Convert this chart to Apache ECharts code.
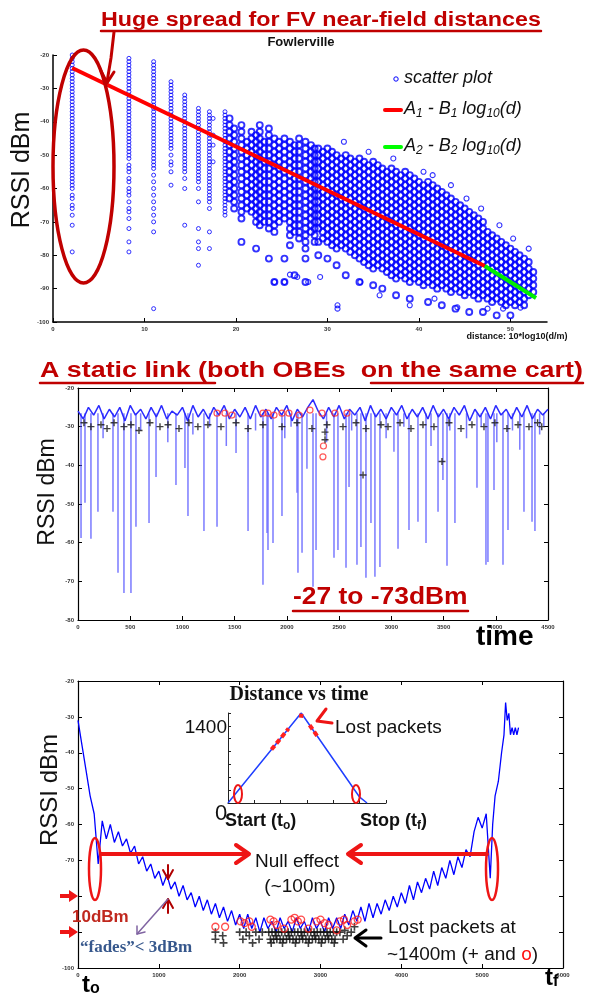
<!DOCTYPE html>
<html>
<head>
<meta charset="utf-8">
<script src="https://cdn.jsdelivr.net/npm/echarts@6/dist/echarts.min.js"></script>
<style>
  html, body { margin: 0; padding: 0; background: #fff; }
  #chart { width: 594px; height: 998px; }
</style>
</head>
<body>
<div id="chart"></div>
<script>
// ---------- Panel 1: Fowlerville RSSI vs 10*log10(d/m) ----------
// near-field columns (few distinct distances)
const nearDist = [2.1, 8.3, 11.0, 12.9, 14.4, 15.9, 17.1, 17.5, 18.8];
const nearRssi = [
  [-20,-21,-22,-23,-24,-25,-26,-27,-28,-29,-30,-31,-32,-33,-34,-35,-36,-37,-38,-39,-40,-41,-42,-43,-44,-45,-46,-47,-48,-49,-50,-51,-52,-53,-54,-55,-56,-57,-58,-59,-60,-62,-63,-65,-66,-68,-71,-79],
  [-21,-22,-23,-24,-25,-26,-27,-28,-29,-30,-31,-32,-33,-34,-35,-36,-37,-38,-39,-40,-41,-42,-43,-44,-45,-46,-47,-48,-49,-50,-51,-53,-54,-55,-57,-58,-60,-61,-62,-64,-66,-67,-69,-72,-76,-79],
  [-22,-23,-24,-25,-26,-27,-28,-29,-30,-31,-32,-33,-34,-35,-36,-37,-38,-39,-40,-41,-42,-43,-44,-45,-46,-47,-48,-49,-50,-51,-52,-53,-54,-56,-58,-60,-62,-64,-66,-68,-70,-73,-96],
  [-28,-29,-30,-31,-32,-33,-34,-35,-36,-37,-38,-39,-40,-41,-42,-43,-44,-45,-46,-47,-48,-50,-52,-53,-55,-59],
  [-32,-33,-34,-35,-36,-37,-38,-39,-40,-41,-42,-43,-44,-45,-46,-47,-48,-49,-50,-51,-52,-53,-54,-55,-57,-60,-71],
  [-36,-37,-38,-39,-40,-41,-42,-43,-44,-45,-46,-47,-48,-49,-50,-51,-52,-53,-54,-55,-56,-57,-58,-60,-64,-72,-76,-78,-83],
  [-37,-38,-39,-40,-41,-42,-43,-44,-45,-46,-47,-48,-49,-50,-51,-52,-53,-54,-55,-56,-57,-58,-59,-60,-61,-62,-63,-64,-66,-73,-78],
  [-39,-44,-47,-52],
  [-37,-38,-39,-40,-41,-42,-43,-44,-45,-46,-47,-48,-49,-50,-51,-52,-53,-54,-55,-56,-57,-58,-59,-60,-61,-62,-63,-64,-65,-66,-67,-68]
];
// far-field columns (dense cloud)
const farDist = [19.3, 19.8, 20.6, 21.2, 21.7, 22.2, 22.6, 23.1, 23.6, 24.2, 24.7, 25.3, 25.9, 26.4, 26.9, 27.6, 28.2, 28.6,
  29.0, 29.5, 30.0, 30.5, 31.0, 31.5, 32.0, 32.5, 33.0, 33.5, 34.0, 34.5, 35.0, 35.5, 36.0, 36.5, 37.0, 37.5,
  38.0, 38.5, 39.0, 39.5, 40.0, 40.5, 41.0, 41.5, 42.0, 42.5, 43.0, 43.5, 44.0, 44.5, 45.0, 45.5, 46.0, 46.5,
  47.0, 47.5, 48.0, 48.5, 49.0, 49.5, 50.0, 50.5, 51.0, 51.5, 52.0, 52.5];
const farRssi = [
  [-39,-41,-43,-45,-47,-49,-51,-53,-55,-57,-59,-61,-63],
  [-42,-44,-46,-48,-50,-52,-54,-56,-58,-60,-62,-64,-66],
  [-41,-43,-45,-47,-49,-51,-53,-55,-57,-59,-61,-63,-65,-67,-69,-76],
  [-46,-48,-50,-52,-54,-56,-58,-60,-62,-64,-66],
  [-43,-45,-47,-49,-51,-53,-55,-57,-59,-61,-63,-65,-67],
  [-44,-46,-48,-50,-52,-54,-56,-58,-60,-62,-64,-66,-68,-70,-78],
  [-41,-43,-45,-47,-49,-51,-53,-55,-57,-59,-61,-63,-65,-67,-69,-71],
  [-46,-48,-50,-52,-54,-56,-58,-60,-62,-64,-66,-68,-70],
  [-42,-44,-46,-48,-50,-52,-54,-56,-58,-60,-62,-64,-66,-68,-70,-72,-81],
  [-45,-47,-49,-51,-53,-55,-57,-59,-61,-63,-65,-67,-69,-71,-73,-88],
  [-46,-48,-50,-52,-54,-56,-58,-60,-62,-64,-66,-68,-70],
  [-45,-47,-49,-51,-53,-55,-57,-59,-61,-63,-65,-67,-69,-81,-88],
  [-46,-48,-50,-52,-54,-56,-58,-60,-62,-64,-66,-68,-70,-72,-74,-77],
  [-47,-49,-51,-53,-55,-57,-59,-61,-63,-65,-67,-69,-71,-73,-86],
  [-45,-47,-49,-51,-53,-55,-57,-59,-61,-63,-65,-67,-69,-71,-73,-75],
  [-46,-48,-50,-52,-54,-56,-58,-60,-62,-64,-66,-68,-70,-72,-74,-76,-78,-81,-88],
  [-47,-49,-51,-53,-55,-57,-59,-61,-63,-65,-67,-69,-71,-73],
  [-48,-50,-52,-54,-56,-58,-60,-62,-64,-66,-68,-70,-72,-74,-76],
  [-48,-50,-52,-54,-56,-58,-60,-62,-64,-66,-68,-70,-72,-76,-80],
  [-49,-51,-53,-55,-57,-59,-61,-63,-65,-67,-69,-71,-73,-75],
  [-48,-50,-52,-54,-56,-58,-60,-62,-64,-66,-68,-70,-72,-74,-76,-81],
  [-49,-51,-53,-55,-57,-59,-61,-63,-65,-67,-69,-71,-73,-75,-77],
  [-50,-52,-54,-56,-58,-60,-62,-64,-66,-68,-70,-72,-74,-76,-78,-83],
  [-51,-53,-55,-57,-59,-61,-63,-65,-67,-69,-71,-73,-75,-77],
  [-50,-52,-54,-56,-58,-60,-62,-64,-66,-68,-70,-72,-74,-76,-78,-86],
  [-51,-53,-55,-57,-59,-61,-63,-65,-67,-69,-71,-73,-75,-77,-79],
  [-52,-54,-56,-58,-60,-62,-64,-66,-68,-70,-72,-74,-76,-78,-80],
  [-51,-53,-55,-57,-59,-61,-63,-65,-67,-69,-71,-73,-75,-77,-79,-81,-88],
  [-52,-54,-56,-58,-60,-62,-64,-66,-68,-70,-72,-74,-76,-78,-80,-82],
  [-53,-55,-57,-59,-61,-63,-65,-67,-69,-71,-73,-75,-77,-79,-81,-83],
  [-52,-54,-56,-58,-60,-62,-64,-66,-68,-70,-72,-74,-76,-78,-80,-82,-84,-89],
  [-53,-55,-57,-59,-61,-63,-65,-67,-69,-71,-73,-75,-77,-79,-81,-83],
  [-54,-56,-58,-60,-62,-64,-66,-68,-70,-72,-74,-76,-78,-80,-82,-84,-90],
  [-55,-57,-59,-61,-63,-65,-67,-69,-71,-73,-75,-77,-79,-81,-83,-85],
  [-54,-56,-58,-60,-62,-64,-66,-68,-70,-72,-74,-76,-78,-80,-82,-84,-86],
  [-55,-57,-59,-61,-63,-65,-67,-69,-71,-73,-75,-77,-79,-81,-83,-85,-87,-92],
  [-56,-58,-60,-62,-64,-66,-68,-70,-72,-74,-76,-78,-80,-82,-84,-86],
  [-55,-57,-59,-61,-63,-65,-67,-69,-71,-73,-75,-77,-79,-81,-83,-85,-87],
  [-56,-58,-60,-62,-64,-66,-68,-70,-72,-74,-76,-78,-80,-82,-84,-86,-88,-93],
  [-57,-59,-61,-63,-65,-67,-69,-71,-73,-75,-77,-79,-81,-83,-85,-87],
  [-58,-60,-62,-64,-66,-68,-70,-72,-74,-76,-78,-80,-82,-84,-86,-88],
  [-59,-61,-63,-65,-67,-69,-71,-73,-75,-77,-79,-81,-83,-85,-87,-89],
  [-58,-60,-62,-64,-66,-68,-70,-72,-74,-76,-78,-80,-82,-84,-86,-88,-94],
  [-59,-61,-63,-65,-67,-69,-71,-73,-75,-77,-79,-81,-83,-85,-87,-89],
  [-60,-62,-64,-66,-68,-70,-72,-74,-76,-78,-80,-82,-84,-86,-88,-90],
  [-61,-63,-65,-67,-69,-71,-73,-75,-77,-79,-81,-83,-85,-87,-89,-95],
  [-62,-64,-66,-68,-70,-72,-74,-76,-78,-80,-82,-84,-86,-88,-90],
  [-63,-65,-67,-69,-71,-73,-75,-77,-79,-81,-83,-85,-87,-89,-91],
  [-64,-66,-68,-70,-72,-74,-76,-78,-80,-82,-84,-86,-88,-90,-96],
  [-65,-67,-69,-71,-73,-75,-77,-79,-81,-83,-85,-87,-89,-91],
  [-66,-68,-70,-72,-74,-76,-78,-80,-82,-84,-86,-88,-90,-92],
  [-67,-69,-71,-73,-75,-77,-79,-81,-83,-85,-87,-89,-91,-97],
  [-68,-70,-72,-74,-76,-78,-80,-82,-84,-86,-88,-90,-92],
  [-69,-71,-73,-75,-77,-79,-81,-83,-85,-87,-89,-91,-93],
  [-70,-72,-74,-76,-78,-80,-82,-84,-86,-88,-90,-92,-97],
  [-73,-75,-77,-79,-81,-83,-85,-87,-89,-91,-93],
  [-74,-76,-78,-80,-82,-84,-86,-88,-90,-92,-94],
  [-75,-77,-79,-81,-83,-85,-87,-89,-91,-93,-98],
  [-76,-78,-80,-82,-84,-86,-88,-90,-92,-94],
  [-77,-79,-81,-83,-85,-87,-89,-91,-93,-95],
  [-78,-80,-82,-84,-86,-88,-90,-92,-94,-98],
  [-79,-81,-83,-85,-87,-89,-91,-93,-95],
  [-80,-82,-84,-86,-88,-90,-92,-94],
  [-81,-83,-85,-87,-89,-91,-93,-95],
  [-82,-84,-86,-88,-90,-92],
  [-85,-87,-89,-91]
];
// isolated readings away from the main cloud
const distExtra = [31.8, 34.5, 37.2, 40.5, 41.5, 43.5, 45.2, 46.8, 48.8, 50.3, 52.0,
  24.2, 25.3, 27.9, 26.7, 25.9, 29.2, 31.1, 31.1, 33.6, 35.7, 39.0, 41.7, 44.2, 47.5, 49.2, 51.1];
const rssiExtra = [-46, -49, -51, -55, -56, -59, -63, -66, -71, -75, -78,
  -88, -88, -88, -86.5, -85.8, -86.5, -95, -96, -88, -92, -95, -93, -95.6, -96, -96, -95.7];
// log-distance fits
const fit1Dist = [2.1, 47.2];
const fit1Rssi = [-23.9, -83.2];
const fit2Dist = [47.2, 52.8];
const fit2Rssi = [-83.2, -92.8];
const distTicks = [0, 10, 20, 30, 40, 50];

// ---------- Panel 2: static link RSSI vs time ----------
const staticTime = [
  0,50,100,150,200,250,300,350,400,450,
  500,550,600,650,700,750,800,850,900,950,
  1000,1050,1100,1150,1200,1250,1300,1350,1400,1450,
  1500,1550,1600,1650,1700,1750,1800,1850,1900,1950,
  2000,2050,2100,2150,2200,2250,2300,2350,2400,2450,
  2500,2550,2600,2650,2700,2750,2800,2850,2900,2950,
  3000,3050,3100,3150,3200,3250,3300,3350,3400,3450,
  3500,3550,3600,3650,3700,3750,3800,3850,3900,3950,
  4000,4050,4100,4150,4200,4250,4300,4350,4400,4450,
  4500];
const staticRssi = [
  -26,-28,-25,-27,-24.5,-28,-25.5,-27.5,-25,-28.5,
  -24.5,-27,-25.5,-28,-25,-27.5,-24.5,-28,-26,-27,
  -25,-28.5,-24.5,-27.5,-25.5,-28,-25,-27,-24.5,-28,
  -25.5,-27.5,-25,-28,-24.5,-27.5,-25.5,-28,-25,-27,
  -24.5,-28.5,-25.5,-27.5,-25,-23,-26,-28,-25,-27.5,
  -24.5,-28,-25.5,-27,-25,-28.5,-24.5,-27.5,-25.5,-28,
  -25,-27,-24.5,-28,-25.5,-27.5,-25,-28,-24.5,-27.5,
  -25.5,-28,-25,-27,-24.5,-28.5,-25.5,-27.5,-25,-28,
  -24.5,-27,-25.5,-28,-25,-27.5,-24.5,-28,-25.5,-27,
  -25.5];
const staticLevel = -26.5;
// deep fades: [time, lowest RSSI]
const fades2 = [
  [29,-58.8],[67,-49.7],[124,-59],[191,-52],[335,-52],[383,-67.8],[440,-73],[507,-73],[555,-55.9],
  [680,-54.9],[747,-43],[938,-45.1],[1024,-40.7],[1053,-53.1],[1206,-57],[1331,-55.9],[1513,-36.8],
  [1628,-57],[1771,-70.9],[1810,-57.5],[1819,-61.9],[1867,-60.1],[1953,-53.1],[2097,-47.1],[2106,-67.8],
  [2145,-62.6],[2192,-40.9],[2250,-71.4],[2279,-61.9],[2451,-63.9],[2489,-61.9],[2566,-66.5],[2595,-45.6],
  [2671,-65.7],[2709,-61.1],[2757,-69.1],[2805,-54.9],[2843,-68.8],[2891,-66.3],[3025,-36.5],[3064,-61.6],
  [3169,-56.7],[3255,-54.6],[3332,-60.1],[3447,-52],[3494,-43.8],[3533,-66],[3609,-54.9],[3820,-45.8],
  [3906,-65.7],[3925,-65],[3983,-46.4],[4069,-65.7],[4117,-56.7],[4270,-52],[4347,-54.6],[4375,-57],
  [240,-33],[600,-31],[860,-34],[1100,-32],[1260,-30],[1420,-35],[1700,-31],[1980,-33],[2040,-30],
  [2380,-34],[2620,-31],[2950,-33],[3120,-30],[3380,-35],[3560,-31],[3720,-33],[3860,-30],[4010,-34],
  [4160,-31],[4230,-36],[4420,-32],[4460,-30]];
const lostPlus2 = [
  [57,-29],[124,-30],[220,-29.5],[278,-30.5],[345,-29],[440,-30],[507,-29.5],[584,-31],[689,-29],[785,-30],
  [862,-29.5],[967,-30.5],[1062,-29],[1148,-30],[1244,-29.5],[1369,-30],[1513,-29],[1628,-30.5],[1771,-29.5],
  [1953,-30],[2097,-29],[2240,-30.5],[2365,-31.4],[2365,-33.4],[2384,-29.5],[2537,-30],[2662,-29],[2729,-42.5],
  [2757,-30.5],[2901,-29.5],[2968,-30],[3083,-29],[3188,-30.5],[3303,-29.5],[3408,-30],[3485,-39],[3552,-29],
  [3667,-30.5],[3772,-29.5],[3887,-30],[3992,-29],[4107,-30.5],[4213,-29.5],[4318,-30],[4400,-29],[4440,-30]];
const lostCircle2 = [
  [1331,-26.5],[1407,-26.5],[1474,-27],[1771,-26.5],[1819,-26.5],[1877,-27],[1953,-26.5],[2020,-26.5],
  [2116,-27],[2221,-25.7],[2336,-26.5],[2460,-26.5],[2575,-26.5],[2350,-35],[2345,-37.8]];

// ---------- Panel 3: drive-away / drive-back RSSI vs time ----------
const drive3 = [
  [0,-31],[50,-38],[100,-45],[150,-52],[200,-57],[250,-71],[300,-59],[350,-64],[400,-60],[450,-65],
  [500,-62],[550,-66],[600,-64],[650,-68],[700,-66],[750,-71],[800,-69],[850,-73],[900,-71],[950,-75],
  [1000,-73],[1050,-77],[1100,-74],[1150,-78],[1200,-76],[1250,-80],[1300,-77],[1350,-81],[1400,-79],[1450,-83],
  [1500,-80],[1550,-84],[1600,-81],[1650,-85],[1700,-82],[1750,-86],[1800,-83],[1850,-87],[1900,-84],[1950,-88],
  [2000,-85],[2050,-89],[2100,-85],[2150,-89],[2200,-86],[2250,-90],[2300,-86],[2350,-89],[2400,-87],[2450,-90],
  [2500,-86],[2550,-89],[2600,-87],[2650,-90],[2700,-86],[2750,-89],[2800,-87],[2850,-90],[2900,-86],[2950,-89],
  [3000,-87],[3050,-90],[3100,-86],[3150,-89],[3200,-86],[3250,-89],[3300,-85],[3350,-88],[3400,-84],[3450,-87],
  [3500,-83],[3550,-87],[3600,-82],[3650,-86],[3700,-82],[3750,-85],[3800,-81],[3850,-84],[3900,-80],[3950,-83],
  [4000,-79],[4050,-82],[4100,-77],[4150,-81],[4200,-76],[4250,-79],[4300,-75],[4350,-78],[4400,-73],[4450,-77],
  [4500,-72],[4550,-75],[4600,-70],[4650,-74],[4700,-69],[4750,-72],[4800,-67],[4850,-69],[4900,-62],[4950,-58],
  [5000,-61],[5050,-57],[5100,-75],[5130,-60],[5160,-52],[5200,-48],[5240,-40],[5270,-35],[5290,-26],[5310,-31],
  [5330,-29],[5350,-35],[5370,-33],[5390,-35],[5410,-33],[5430,-35],[5450,-33]];
const lostPlus3 = [
  [2360,-90],[2400,-90],[2440,-90],[2480,-90],[2520,-90],[2560,-90],[2600,-90],[2640,-90],[2680,-90],[2720,-90],
  [2760,-90],[2800,-90],[2840,-90],[2880,-90],[2920,-90],[2960,-90],[3000,-90],[3040,-90],[3080,-90],[3120,-90],
  [3160,-90],[3200,-90],
  [2380,-92],[2420,-92],[2460,-92],[2500,-92],[2540,-92],[2580,-92],[2620,-92],[2660,-92],[2700,-92],[2740,-92],
  [2780,-92],[2820,-92],[2860,-92],[2900,-92],[2940,-92],[2980,-92],[3020,-92],[3060,-92],[3100,-92],[3140,-92],
  [3180,-92],
  [2390,-93],[2450,-91],[2530,-93],[2610,-91],[2690,-93],[2770,-91],[2850,-93],[2930,-91],[3010,-93],[3090,-91],
  [3170,-93],
  [1700,-90],[1700,-92],[1790,-91],[1800,-93],[2000,-90],[2040,-92],[2080,-90],[2120,-91],[2160,-93],[2200,-90],
  [2240,-92],[2280,-90],[3240,-90],[3280,-92],[3300,-89.5],[3330,-91],[3380,-90],[3420,-88.5]];
const lostCircle3 = [
  [1700,-88.5],[1820,-88.5],[2010,-87],[2060,-87.5],[2120,-87],[2150,-88.5],[2380,-86.5],[2420,-87],[2460,-88],
  [2640,-86.5],[2680,-86],[2720,-87],[2760,-86.5],[2950,-87],[3000,-86.5],[3050,-87.5],[3100,-88],[3240,-87],
  [3290,-86.5],[3330,-88],[3420,-87],[3460,-86.5],[2550,-89],[2850,-89],[3200,-89.5]];
// inset: distance vs time (arbitrary time units), metres
const insetTime = [0, 2.78, 5.0, 5.28];
const insetDist = [0, 1400, 90, 0];
const insetLost = [[1.65, 831], [2.3, 1158], '-', [2.7, 1360], [2.86, 1353], '-', [3.1, 1211], [3.45, 1005]];

// ---------- build series data ----------
function columnsToPoints(xs, cols) {
  const out = [];
  xs.forEach((x, i) => cols[i].forEach(v => out.push([x, v])));
  return out;
}
const nearData = columnsToPoints(nearDist, nearRssi);
const farData = columnsToPoints(farDist, farRssi);
const extraData = distExtra.map((x, i) => [x, rssiExtra[i]]);
const staticData = staticTime.map((t, i) => [t, staticRssi[i]]);
const fadeData = [];
fades2.forEach(([t, v]) => { fadeData.push([t, staticLevel], [t, v], [t, '-']); });

const FONT = '"Liberation Sans", Arial, sans-serif';
const PLUS = 'path://M4,0H6V4H10V6H6V10H4V6H0V4H4Z';
const tickLabel = { fontSize: 6, color: '#333', fontWeight: 'bold', fontFamily: FONT, margin: 4,
  formatter: v => String(v) };

function valAxis(grid, min, max, interval, position, showLabel, extra) {
  return Object.assign({
    type: 'value', gridIndex: grid, min, max, interval, position,
    axisLine: { show: true, onZero: false, lineStyle: { color: '#000', width: 1.2 } },
    axisTick: { show: true, inside: true, length: 4, lineStyle: { color: '#000', width: 1 } },
    axisLabel: Object.assign({ show: showLabel }, tickLabel),
    splitLine: { show: false }
  }, extra || {});
}

const xAxis = [
  valAxis(0, 0, 54, 10, 'bottom', true, {
    axisLabel: Object.assign({ show: true, customValues: distTicks }, tickLabel),
    axisTick: { show: true, inside: true, length: 4, customValues: distTicks, lineStyle: { color: '#000' } },
    axisLine: { show: true, onZero: false, lineStyle: { color: '#000', width: 1.5 } }
  }),
  valAxis(1, 0, 4500, 500, 'bottom', true),
  valAxis(1, 0, 4500, 500, 'top', false),
  valAxis(2, 0, 6000, 1000, 'bottom', true),
  valAxis(2, 0, 6000, 1000, 'top', false),
  valAxis(3, 0, 6, 1, 'bottom', false, {
    axisLine: { show: true, onZero: false, lineStyle: { color: '#222', width: 1 } },
    axisTick: { show: true, inside: true, length: 3, lineStyle: { color: '#222' } }
  })
];
const yAxis = [
  valAxis(0, -100, -20, 10, 'left', true, {
    axisLine: { show: true, onZero: false, lineStyle: { color: '#000', width: 1.5 } }
  }),
  valAxis(1, -80, -20, 10, 'left', true),
  valAxis(1, -80, -20, 10, 'right', false),
  valAxis(2, -100, -20, 10, 'left', true),
  valAxis(2, -100, -20, 10, 'right', false),
  valAxis(3, 0, 1400, 200, 'left', false, {
    axisLine: { show: true, onZero: false, lineStyle: { color: '#222', width: 1 } },
    axisTick: { show: true, inside: true, length: 3, lineStyle: { color: '#222' } }
  })
];

const hollow = (w) => ({ color: 'rgba(0,0,0,0)', borderColor: '#0000ff', borderWidth: w });
const series = [
  { type: 'scatter', xAxisIndex: 0, yAxisIndex: 0, data: nearData, symbol: 'circle', symbolSize: 4,
    progressive: 0, itemStyle: hollow(1), z: 2 },
  { type: 'scatter', xAxisIndex: 0, yAxisIndex: 0, data: farData, symbol: 'circle', symbolSize: 6,
    progressive: 0, itemStyle: hollow(1.9), z: 2 },
  { type: 'scatter', xAxisIndex: 0, yAxisIndex: 0, data: extraData, symbol: 'circle', symbolSize: 5,
    progressive: 0, itemStyle: hollow(1.1), z: 2 },
  { type: 'line', xAxisIndex: 0, yAxisIndex: 0, data: fit1Dist.map((d, i) => [d, fit1Rssi[i]]),
    symbol: 'none', lineStyle: { color: '#ff0000', width: 4 }, z: 3 },
  { type: 'line', xAxisIndex: 0, yAxisIndex: 0, data: fit2Dist.map((d, i) => [d, fit2Rssi[i]]),
    symbol: 'none', lineStyle: { color: '#00ee00', width: 4 }, z: 3 },

  { type: 'line', xAxisIndex: 1, yAxisIndex: 1, data: fadeData, symbol: 'none', connectNulls: false,
    lineStyle: { color: 'rgba(70,70,255,0.72)', width: 1.5 }, z: 2 },
  { type: 'line', xAxisIndex: 1, yAxisIndex: 1, data: staticData, symbol: 'none',
    lineStyle: { color: '#2a2aff', width: 1.5 }, z: 3 },
  { type: 'scatter', xAxisIndex: 1, yAxisIndex: 1, data: lostPlus2, symbol: PLUS, symbolSize: 7,
    itemStyle: { color: '#111' }, z: 4 },
  { type: 'scatter', xAxisIndex: 1, yAxisIndex: 1, data: lostCircle2, symbol: 'circle', symbolSize: 6,
    itemStyle: { color: 'rgba(0,0,0,0)', borderColor: '#ff3030', borderWidth: 1.2 }, z: 5 },

  { type: 'line', xAxisIndex: 3, yAxisIndex: 3, data: drive3, symbol: 'none',
    lineStyle: { color: '#0000ff', width: 1.3 }, z: 2 },
  { type: 'scatter', xAxisIndex: 3, yAxisIndex: 3, data: lostPlus3, symbol: PLUS, symbolSize: 8,
    itemStyle: { color: '#111' }, z: 4 },
  { type: 'scatter', xAxisIndex: 3, yAxisIndex: 3, data: lostCircle3, symbol: 'circle', symbolSize: 7,
    itemStyle: { color: 'rgba(0,0,0,0)', borderColor: '#ff2020', borderWidth: 1.3 }, z: 5 },

  { type: 'line', xAxisIndex: 5, yAxisIndex: 5, data: insetTime.map((t, i) => [t, insetDist[i]]),
    symbol: 'none', lineStyle: { color: '#1f3fff', width: 1.5 }, z: 3 },
  { type: 'line', xAxisIndex: 5, yAxisIndex: 5, data: insetLost, symbol: 'none', connectNulls: false,
    lineStyle: { color: '#ff2020', width: 4, type: [5, 3] }, z: 4 }
];

// ---------- annotation helpers ----------
function txt(x, y, text, st, el) {
  const style = Object.assign({
    text, fill: '#111', fontFamily: FONT, fontSize: 18,
    textAlign: 'left', textVerticalAlign: 'middle', verticalAlign: 'middle'
  }, st || {});
  style.align = style.textAlign;
  return Object.assign({ type: 'text', x, y, z: 100, style }, el || {});
}
function seg(points, stroke, lineWidth) {
  return { type: 'polyline', z: 100, shape: { points },
    style: { stroke, lineWidth, fill: null, lineCap: 'round', lineJoin: 'round' } };
}
function ring(cx, cy, rx, ry, stroke, lineWidth) {
  return { type: 'ellipse', z: 100, shape: { cx, cy, rx, ry }, style: { fill: null, stroke, lineWidth } };
}
function poly(points, fill) {
  return { type: 'polygon', z: 100, shape: { points }, style: { fill } };
}
const DARKRED = '#c00000', RED = '#ee1515';
const vLabel = (x, y, size) => txt(x, y, 'RSSI dBm', { fontSize: size, textAlign: 'center', fill: '#111' }, { rotation: Math.PI / 2 });
const subRich = (size, sub, weight) => ({
  n: { fontSize: size, fontWeight: weight || 'normal', fontFamily: FONT, fill: '#111', color: '#111', lineHeight: size + 2, verticalAlign: 'top' },
  s: { fontSize: sub, fontWeight: weight || 'normal', fontFamily: FONT, fill: '#111', color: '#111', lineHeight: sub, padding: [Math.round(size * 0.6), 0, 0, 0], verticalAlign: 'bottom' }
});

const legendRich = subRich(18, 12);
legendRich.n.fontStyle = 'italic'; legendRich.s.fontStyle = 'italic';

const graphics = [
  // panel 1
  txt(101, 20, 'Huge spread for FV near-field distances', { fontSize: 20, fontWeight: 'bold', fill: DARKRED }, { scaleX: 1.164 }),
  seg([[101, 31], [541, 31]], DARKRED, 2.5),
  seg([[114, 32], [111, 58], [107, 82]], DARKRED, 3),
  seg([[101, 71], [107, 83], [114, 72]], DARKRED, 3),
  ring(83.5, 166.5, 30.5, 116.5, DARKRED, 3.5),
  txt(301, 42, 'Fowlerville', { fontSize: 13, fontWeight: 'bold', textAlign: 'center', fill: '#111' }),
  { type: 'circle', z: 100, shape: { cx: 396, cy: 79, r: 2.2 }, style: { fill: null, stroke: '#0000ff', lineWidth: 1 } },
  txt(404, 78, 'scatter plot', { fontSize: 18, fontStyle: 'italic' }),
  seg([[385, 110], [401, 110]], '#ff0000', 4),
  txt(404, 110, '{n|A}{s|1}{n| - B}{s|1}{n| log}{s|10}{n|(d)}', { rich: legendRich }),
  seg([[385, 147], [401, 147]], '#00ff00', 4),
  txt(404, 147, '{n|A}{s|2}{n| - B}{s|2}{n| log}{s|10}{n|(d)}', { rich: legendRich }),
  vLabel(22, 170, 25),
  txt(517, 337, 'distance: 10*log10(d/m)', { fontSize: 9, fontWeight: 'bold', textAlign: 'center' }),

  // panel 2
  txt(40, 371, 'A static link (both OBEs  on the same cart)', { fontSize: 22, fontWeight: 'bold', fill: DARKRED }, { scaleX: 1.22 }),
  seg([[40, 383], [215, 383]], DARKRED, 2.5),
  seg([[371, 383], [583, 383]], DARKRED, 2.5),
  vLabel(48, 492, 23),
  txt(293, 597, '-27 to -73dBm', { fontSize: 24, fontWeight: 'bold', fill: DARKRED }, { scaleX: 1.1 }),
  seg([[293, 611], [468, 611]], DARKRED, 2.5),
  txt(476, 637, 'time', { fontSize: 28, fontWeight: 'bold', fill: '#000' }),

  // panel 3
  vLabel(50, 790, 24),
  txt(299, 695, 'Distance vs time', { fontSize: 20, fontWeight: 'bold', fontFamily: '"Liberation Serif", "Times New Roman", serif', textAlign: 'center' }),
  txt(227, 728, '1400', { fontSize: 19, textAlign: 'right' }),
  txt(221, 814, '0', { fontSize: 22, textAlign: 'center' }),
  txt(225, 822, '{n|Start (t}{s|o}{n|)}', { rich: subRich(18, 12, 'bold') }),
  txt(360, 822, '{n|Stop (t}{s|f}{n|)}', { rich: subRich(18, 12, 'bold') }),
  txt(335, 728, 'Lost packets', { fontSize: 19 }),
  seg([[326, 709], [317, 721], [332, 723]], RED, 3),
  ring(238, 794, 4, 9, RED, 2),
  ring(356, 794, 4, 9, RED, 2),
  ring(95, 869, 6, 31, RED, 2.5),
  ring(492, 869, 6, 31, RED, 2.5),
  seg([[101, 854], [247, 854]], RED, 4),
  seg([[236, 845], [249, 854], [236, 863]], RED, 4),
  seg([[487, 854], [350, 854]], RED, 4),
  seg([[361, 845], [348, 854], [361, 863]], RED, 4),
  txt(297, 862, 'Null effect', { fontSize: 19, textAlign: 'center' }),
  txt(300, 887, '(~100m)', { fontSize: 19, textAlign: 'center' }),
  seg([[168, 865], [168, 879]], '#b00000', 2),
  seg([[163, 870], [168, 879], [173, 870]], '#b00000', 2),
  seg([[168, 899], [168, 913]], '#b00000', 2),
  seg([[163, 908], [168, 899], [173, 908]], '#b00000', 2),
  poly([[60, 894], [69, 894], [69, 890], [78, 896], [69, 902], [69, 898], [60, 898]], RED),
  poly([[60, 930], [69, 930], [69, 926], [78, 932], [69, 938], [69, 934], [60, 934]], RED),
  txt(72, 917, '10dBm', { fontSize: 17, fontWeight: 'bold', fill: '#c0281e' }),
  seg([[168, 899], [137, 934]], '#8064a2', 1.5),
  seg([[137, 926], [137, 934], [145, 932]], '#8064a2', 1.5),
  txt(80, 948, '\u201cfades\u201d< 3dBm', { fontSize: 17, fontWeight: 'bold', fill: '#36578c', fontFamily: '"Liberation Serif", "Times New Roman", serif' }),
  seg([[381, 938], [356, 938]], '#000', 3),
  seg([[366, 930], [355, 938], [366, 946]], '#000', 3),
  txt(388, 928, 'Lost packets at', { fontSize: 19 }),
  txt(387, 955, '{n|~1400m (+ and }{r|o}{n|)}', { rich: {
    n: { fontSize: 19, fontFamily: FONT, fill: '#111', color: '#111' },
    r: { fontSize: 19, fontFamily: FONT, fill: '#ff1010', color: '#ff1010' } } }),
  txt(82, 985, '{n|t}{s|o}', { rich: {
    n: { fontSize: 24, fontWeight: 'bold', fontFamily: FONT, fill: '#000', color: '#000', lineHeight: 24, verticalAlign: 'top' },
    s: { fontSize: 16, fontWeight: 'bold', fontFamily: FONT, fill: '#000', color: '#000', lineHeight: 16, padding: [14, 0, 0, 0], verticalAlign: 'bottom' } } }),
  txt(545, 978, '{n|t}{s|f}', { rich: {
    n: { fontSize: 24, fontWeight: 'bold', fontFamily: FONT, fill: '#000', color: '#000', lineHeight: 24, verticalAlign: 'top' },
    s: { fontSize: 16, fontWeight: 'bold', fontFamily: FONT, fill: '#000', color: '#000', lineHeight: 16, padding: [14, 0, 0, 0], verticalAlign: 'bottom' } } })
];

const chart = echarts.init(document.getElementById('chart'), null, { renderer: 'canvas' });
chart.setOption({
  backgroundColor: '#ffffff',
  animation: false,
  grid: [
    { left: 53, top: 55, width: 494, height: 267, containLabel: false, outerBoundsMode: 'none' },
    { left: 78, top: 388, width: 470, height: 232, containLabel: false, outerBoundsMode: 'none' },
    { left: 78, top: 681, width: 485, height: 287, containLabel: false, outerBoundsMode: 'none' },
    { left: 228, top: 713, width: 158, height: 90, containLabel: false, outerBoundsMode: 'none' }
  ],
  xAxis, yAxis, series,
  graphic: { elements: graphics }
});
</script>
</body>
</html>
